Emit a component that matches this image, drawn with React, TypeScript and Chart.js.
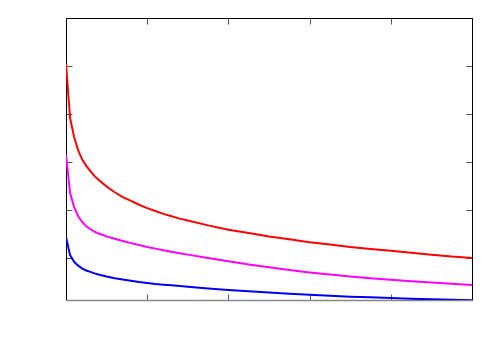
import React, { useEffect, useRef } from "react";
import { Chart, registerables } from "chart.js";

Chart.register(...registerables);

const xValues = [0, 1, 2, 3, 4, 5, 6, 7, 8, 9, 10, 12, 14, 16, 18, 20, 22, 24, 26, 28, 30, 35, 40, 45, 50, 55, 60, 65, 70, 75, 80, 85, 90, 95, 100];
const redValues = [5.04, 3.92, 3.52, 3.24, 3.05, 2.92, 2.81, 2.71, 2.63, 2.56, 2.49, 2.37, 2.27, 2.19, 2.11, 2.04, 1.98, 1.92, 1.87, 1.82, 1.78, 1.68, 1.59, 1.52, 1.45, 1.39, 1.33, 1.28, 1.23, 1.19, 1.15, 1.11, 1.07, 1.03, 1.0];
const magentaValues = [3.15, 2.36, 2.06, 1.87, 1.75, 1.66, 1.6, 1.55, 1.51, 1.48, 1.45, 1.4, 1.355, 1.31, 1.27, 1.23, 1.195, 1.16, 1.13, 1.1, 1.07, 1.0, 0.93, 0.865, 0.805, 0.75, 0.7, 0.655, 0.615, 0.58, 0.545, 0.515, 0.49, 0.465, 0.44];
const blueValues = [1.44, 1.06, 0.92, 0.84, 0.78, 0.74, 0.71, 0.68, 0.655, 0.635, 0.615, 0.58, 0.55, 0.525, 0.5, 0.48, 0.46, 0.445, 0.43, 0.415, 0.4, 0.365, 0.335, 0.305, 0.28, 0.255, 0.235, 0.215, 0.195, 0.18, 0.165, 0.15, 0.14, 0.13, 0.12];
const xTicks = [0, 20, 40, 60, 80, 100];
const yTicks = [1, 2, 3, 4, 5, 6];

const framePlugin = {
  id: "frame",
  beforeDatasetsDraw(chart: any) {
    const ctx = chart.ctx;
    const { left, right, top, bottom } = chart.chartArea;
    const xs = chart.scales.x;
    const ys = chart.scales.y;
    const L = Math.round(left) + 0.5;
    const R = Math.round(right) + 0.5;
    const T = Math.round(top) + 0.5;
    const B = Math.round(bottom) + 0.5;
    ctx.save();
    ctx.lineWidth = 1;
    ctx.strokeStyle = "#555";
    const tl = 6;
    xTicks.forEach((v) => {
      const px = Math.round(xs.getPixelForValue(v)) + 0.5;
      ctx.beginPath();
      ctx.moveTo(px, B);
      ctx.lineTo(px, B - tl);
      ctx.moveTo(px, T);
      ctx.lineTo(px, T + tl);
      ctx.stroke();
    });
    yTicks.forEach((v) => {
      const py = Math.round(ys.getPixelForValue(v)) + 0.5;
      ctx.beginPath();
      ctx.moveTo(L, py);
      ctx.lineTo(L + tl, py);
      ctx.moveTo(R, py);
      ctx.lineTo(R - tl, py);
      ctx.stroke();
    });
    ctx.strokeStyle = "#000";
    ctx.beginPath();
    ctx.moveTo(L, B);
    ctx.lineTo(L, T);
    ctx.lineTo(R, T);
    ctx.lineTo(R, B);
    ctx.stroke();
    ctx.strokeStyle = "#888";
    ctx.lineWidth = 1.5;
    ctx.beginPath();
    ctx.moveTo(L, B);
    ctx.lineTo(R, B);
    ctx.stroke();
    ctx.restore();
  },
};

function ChartView() {
  const ref = useRef<HTMLCanvasElement | null>(null);
  useEffect(() => {
    if (!ref.current) return;
    const mk = (vals: number[]) => xValues.map((x, i) => ({ x, y: vals[i] }));
    const chart = new Chart(ref.current, {
      type: "line",
      data: {
        datasets: [
          { data: mk(redValues), borderColor: "#ff0000", borderWidth: 2, pointRadius: 0, tension: 0, fill: false },
          { data: mk(magentaValues), borderColor: "#ff00ff", borderWidth: 2, pointRadius: 0, tension: 0, fill: false },
          { data: mk(blueValues), borderColor: "#0000ee", borderWidth: 2, pointRadius: 0, tension: 0, fill: false },
        ],
      },
      options: {
        animation: false,
        responsive: false,
        layout: { padding: { left: 66, top: 18, right: 28, bottom: 50 } },
        plugins: { legend: { display: false }, tooltip: { enabled: false } },
        scales: {
          x: { type: "linear", display: false, min: 0, max: 100 },
          y: { type: "linear", display: false, min: 0.125, max: 6 },
        },
      },
      plugins: [framePlugin],
    });
    return () => chart.destroy();
  }, []);
  return (
    <div style={{ position: "fixed", left: 0, top: 0, width: 500, height: 350, background: "#fff" }}>
      <canvas ref={ref} width={500} height={350} style={{ display: "block" }} />
    </div>
  );
}

export default function App() {
  return <ChartView />;
}
